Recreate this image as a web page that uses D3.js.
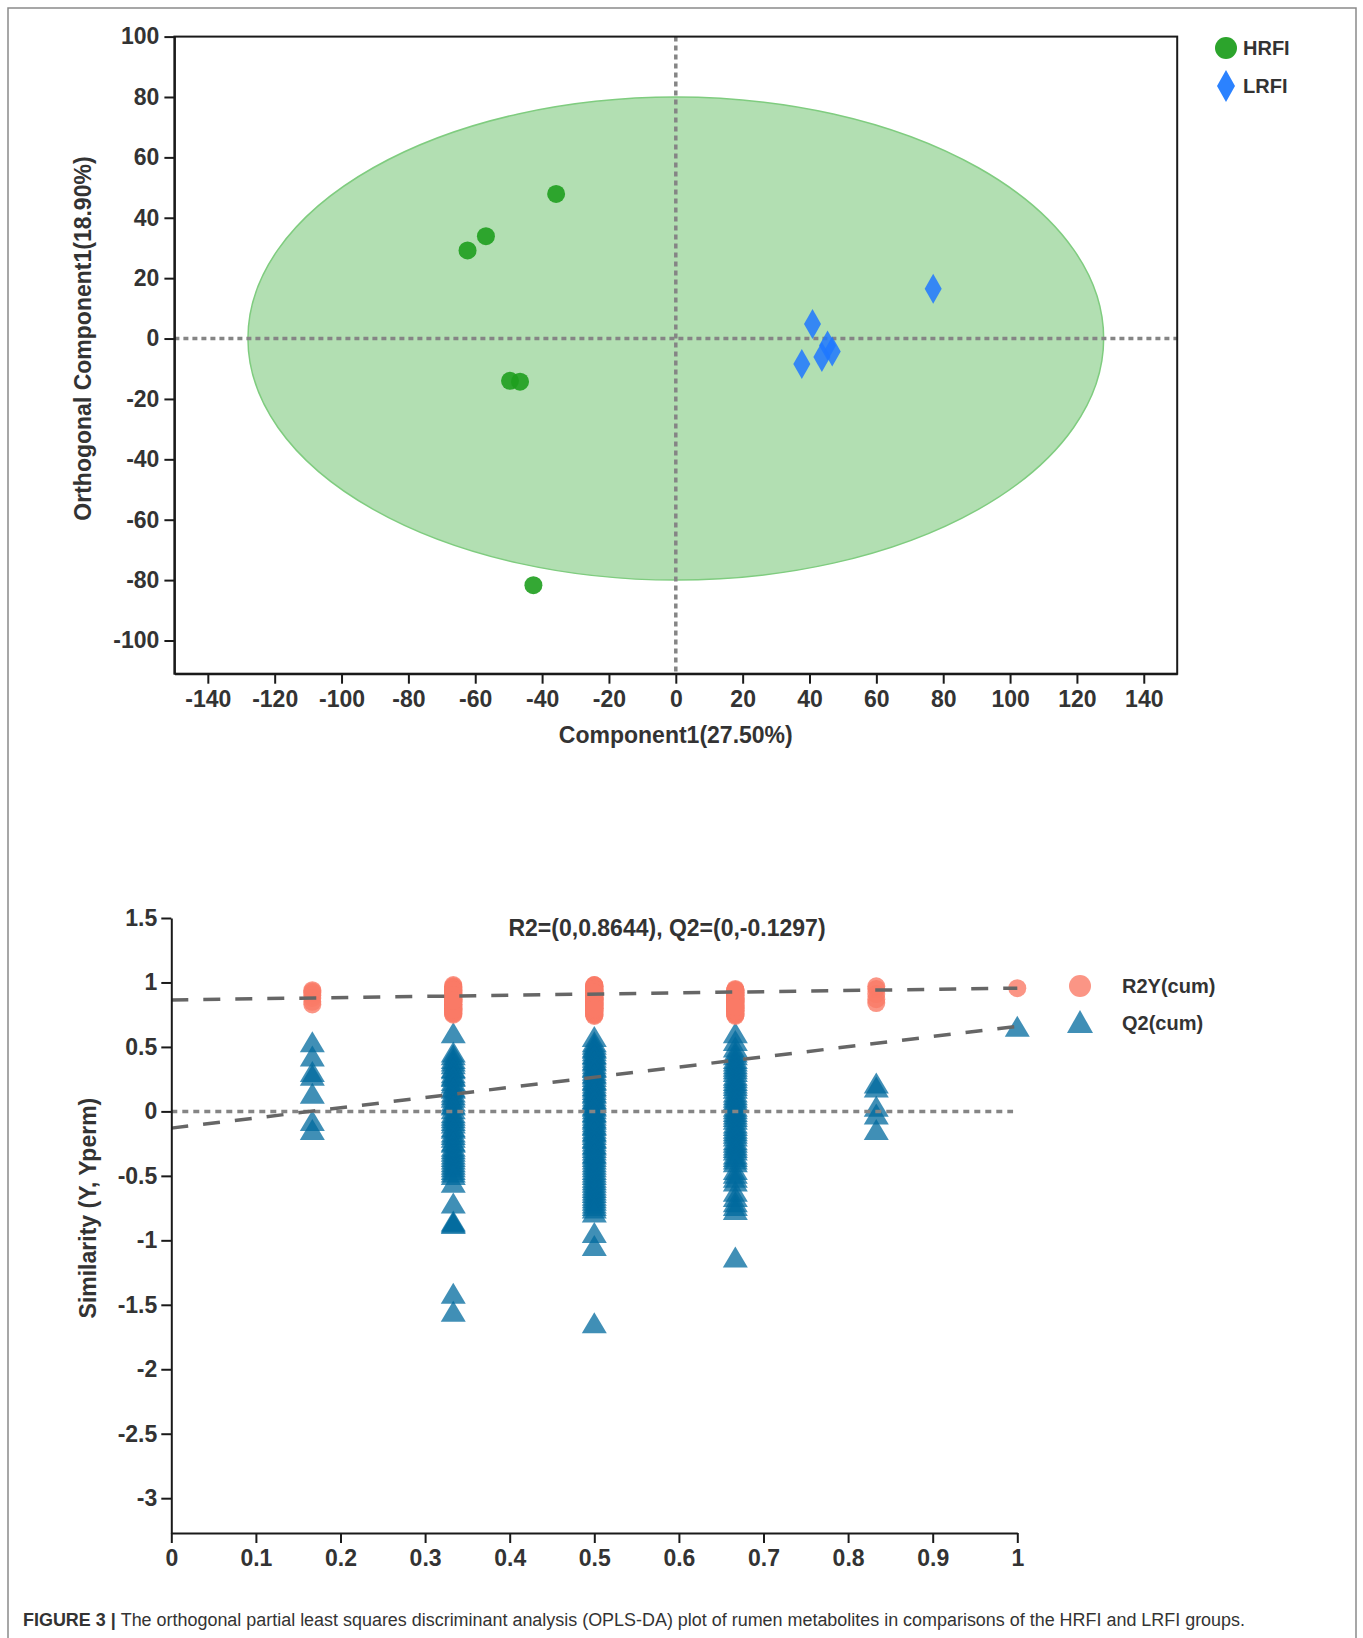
<!DOCTYPE html>
<html>
  <head>
    <meta http-equiv="Content-Type" content="text/html;charset=utf-8"/>
    <style type="text/css">

body {
  margin: 0;
  background: #fff;
}

svg {
  font-family: "Liberation Sans", Arial, sans-serif;
}

.axis text {
  font-size: 23px;
  font-weight: bold;
  fill: #333;
}

.axis line, .axis path {
  fill: none;
  stroke: #1a1a1a;
  stroke-width: 2px;
}

.label {
  font-size: 23px;
  font-weight: bold;
  fill: #333;
}

.legend text {
  font-size: 20px;
  font-weight: bold;
  fill: #333;
}

.refline {
  fill: none;
  stroke: #858585;
  stroke-width: 3.5px;
  stroke-dasharray: 5,4;
}

.fitline {
  fill: none;
  stroke: #666;
  stroke-width: 3.5px;
  stroke-dasharray: 17,15;
}

.caption {
  font-size: 18px;
  fill: #333;
}

    </style>
  </head>
  <body>
    <svg></svg>

    <script type="text/javascript" src="https://cdn.jsdelivr.net/npm/d3@7/dist/d3.min.js"></script>

    <script type="text/javascript">

// ---- score plot data (OPLS-DA) ----
var hrfiX = [-35.8, -56.8, -62.3, -49.6, -46.6, -42.6];
var hrfiY = [47.9, 33.9, 29.2, -14.0, -14.3, -81.7];
var lrfiX = [77.0, 40.9, 45.4, 46.8, 43.7, 37.7];
var lrfiY = [16.5, 4.8, -2.3, -4.3, -6.1, -8.4];
var scoreXTicks = [-140, -120, -100, -80, -60, -40, -20, 0, 20, 40, 60, 80, 100, 120, 140];
var scoreYTicks = [100, 80, 60, 40, 20, 0, -20, -40, -60, -80, -100];
var ellipseR = [128, 80];   // Hotelling T2 ellipse radii (x, y)

// ---- permutation test data ----
var permLevels = [0.1667, 0.3333, 0.5, 0.6667, 0.8333];
var r2Lev1 = [0.94, 0.93, 0.92, 0.90, 0.88, 0.85, 0.83];
var q2Lev1 = [0.54, 0.43, 0.31, 0.28, 0.14, -0.07, -0.14];
var r2Lev2 = [0.98, 0.97, 0.96, 0.96, 0.95, 0.95, 0.94, 0.93, 0.93, 0.92, 0.92, 0.91, 0.90, 0.90, 0.89, 0.89, 0.88, 0.88,
              0.87, 0.87, 0.86, 0.86, 0.85, 0.85, 0.84, 0.84, 0.83, 0.83, 0.82, 0.82, 0.81, 0.81, 0.80, 0.80, 0.79, 0.79,
              0.78, 0.78, 0.77, 0.77, 0.76, 0.76, 0.75, 0.91, 0.89, 0.87, 0.85, 0.83, 0.81, 0.79, 0.94, 0.90, 0.86];
var q2Lev2 = [0.61, 0.46, 0.44, 0.41, 0.39, 0.37, 0.34, 0.33, 0.30, 0.28, 0.27, 0.24, 0.22, 0.19, 0.18, 0.15, 0.13, 0.11,
              0.08, 0.06, 0.05, 0.02, -0.01, -0.03, -0.05, -0.07, -0.09, -0.12, -0.13, -0.16, -0.18, -0.20, -0.23, -0.24,
              -0.27, -0.29, -0.31, -0.33, -0.35, -0.37, -0.39, -0.41, -0.43, -0.45, -0.47, -0.49, -0.55, -0.71, -0.85,
              -0.86, -0.87, -1.41, -1.55];
var r2Lev3 = [0.98, 0.98, 0.97, 0.97, 0.96, 0.96, 0.95, 0.95, 0.94, 0.94, 0.93, 0.93, 0.92, 0.92, 0.91, 0.91, 0.90, 0.90,
              0.89, 0.89, 0.88, 0.88, 0.87, 0.87, 0.86, 0.86, 0.85, 0.85, 0.84, 0.84, 0.83, 0.83, 0.82, 0.82, 0.81, 0.81,
              0.80, 0.80, 0.79, 0.79, 0.78, 0.78, 0.77, 0.77, 0.76, 0.76, 0.75, 0.75, 0.74, 0.92, 0.90, 0.88, 0.86, 0.84,
              0.82, 0.80, 0.78, 0.93, 0.91, 0.89, 0.87, 0.85, 0.83, 0.81, 0.79, 0.96, 0.94, 0.90, 0.86, 0.82, 0.97, 0.95,
              0.91, 0.87, 0.83, 0.88, 0.84, 0.80, 0.92];
var q2Lev3 = [0.58, 0.54, 0.52, 0.50, 0.49, 0.47, 0.45, 0.44, 0.42, 0.40, 0.39, 0.37, 0.35, 0.34, 0.32, 0.30, 0.29, 0.27,
              0.25, 0.24, 0.22, 0.20, 0.19, 0.17, 0.15, 0.14, 0.12, 0.10, 0.09, 0.07, 0.05, 0.04, 0.02, 0.00, -0.01, -0.03,
              -0.05, -0.06, -0.08, -0.10, -0.11, -0.13, -0.15, -0.16, -0.18, -0.20, -0.21, -0.23, -0.25, -0.26, -0.28,
              -0.30, -0.32, -0.33, -0.35, -0.37, -0.39, -0.41, -0.43, -0.45, -0.47, -0.49, -0.51, -0.53, -0.55, -0.57,
              -0.59, -0.61, -0.63, -0.65, -0.67, -0.69, -0.71, -0.73, -0.75, -0.78, -0.94, -1.04, -1.64];
var r2Lev4 = [0.95, 0.94, 0.94, 0.93, 0.92, 0.92, 0.91, 0.90, 0.90, 0.89, 0.88, 0.88, 0.87, 0.86, 0.86, 0.85, 0.84, 0.84,
              0.83, 0.82, 0.82, 0.81, 0.80, 0.80, 0.79, 0.78, 0.78, 0.77, 0.76, 0.76, 0.75, 0.74, 0.93, 0.91, 0.89, 0.87,
              0.85, 0.83, 0.81, 0.79, 0.77, 0.75, 0.92, 0.88, 0.84, 0.80, 0.90, 0.86, 0.82, 0.78, 0.94, 0.87, 0.81];
var q2Lev4 = [0.61, 0.55, 0.50, 0.46, 0.44, 0.41, 0.39, 0.37, 0.35, 0.33, 0.31, 0.28, 0.26, 0.24, 0.22, 0.20, 0.18, 0.15,
              0.13, 0.11, 0.09, 0.07, 0.04, 0.02, 0.00, -0.02, -0.04, -0.06, -0.09, -0.11, -0.13, -0.15, -0.17, -0.19,
              -0.22, -0.24, -0.26, -0.28, -0.30, -0.33, -0.35, -0.37, -0.39, -0.45, -0.48, -0.51, -0.54, -0.62, -0.66,
              -0.70, -0.73, -0.76, -1.13];
var r2Lev5 = [0.97, 0.95, 0.91, 0.87, 0.84];
var q2Lev5 = [0.22, 0.19, 0.04, -0.02, -0.14];
var r2Orig = 0.956, q2Orig = 0.66;          // unpermuted model (similarity 1)
var r2Intercept = 0.8644, q2Intercept = -0.1297;
var permXTicks = [0, 0.1, 0.2, 0.3, 0.4, 0.5, 0.6, 0.7, 0.8, 0.9, 1];
var permYTicks = [1.5, 1, 0.5, 0, -0.5, -1, -1.5, -2, -2.5, -3];

var W = 1363, H = 1638;

var svg = d3.select("svg")
    .attr("width", W)
    .attr("height", H);

// figure frame (open at the bottom)
svg.append("path")
    .attr("d", "M8,1638 V8 H1356 V1638")
    .attr("fill", "none")
    .attr("stroke", "#8a8a8a")
    .attr("stroke-width", 1.5);

// =============== upper: score plot ===============
var x1 = d3.scaleLinear().domain([-150, 150]).range([174.4, 1177.2]);
var y1 = d3.scaleLinear().domain([-111, 100]).range([673.7, 36.6]);

var upper = svg.append("g");

upper.append("ellipse")
    .attr("cx", x1(0))
    .attr("cy", y1(0))
    .attr("rx", x1(ellipseR[0]) - x1(0))
    .attr("ry", y1(0) - y1(ellipseR[1]))
    .attr("fill", "#b2dfb2")
    .attr("stroke", "#7fcc7f")
    .attr("stroke-width", 1.5);

upper.append("line").attr("class", "refline")
    .attr("x1", x1(-150)).attr("x2", x1(150))
    .attr("y1", y1(0)).attr("y2", y1(0));
upper.append("line").attr("class", "refline")
    .attr("x1", x1(0)).attr("x2", x1(0))
    .attr("y1", y1(100)).attr("y2", y1(-111));

upper.append("rect")
    .attr("x", x1(-150)).attr("y", y1(100))
    .attr("width", x1(150) - x1(-150))
    .attr("height", y1(-111) - y1(100))
    .attr("fill", "none")
    .attr("stroke", "#1a1a1a")
    .attr("stroke-width", 2);

var diamond = "M0,-15 L8.5,0 L0,15 L-8.5,0 Z";

upper.append("g").selectAll("path")
    .data(d3.range(lrfiX.length))
  .enter().append("path")
    .attr("d", diamond)
    .attr("transform", i => "translate(" + x1(lrfiX[i]) + "," + y1(lrfiY[i]) + ")")
    .attr("fill", "#1f78ff")
    .attr("fill-opacity", 0.85);

upper.append("g").selectAll("circle")
    .data(d3.range(hrfiX.length))
  .enter().append("circle")
    .attr("cx", i => x1(hrfiX[i]))
    .attr("cy", i => y1(hrfiY[i]))
    .attr("r", 9)
    .attr("fill", "#1e9e1e")
    .attr("fill-opacity", 0.9);

upper.append("g")
    .attr("class", "axis")
    .attr("transform", "translate(" + x1(-150) + ",0)")
    .call(d3.axisLeft(y1).tickValues(scoreYTicks).tickFormat(d => String(d))
          .tickSize(10).tickPadding(5).tickSizeOuter(0));
upper.append("g")
    .attr("class", "axis")
    .attr("transform", "translate(0," + y1(-111) + ")")
    .call(d3.axisBottom(x1).tickValues(scoreXTicks).tickFormat(d => String(d))
          .tickSize(10).tickPadding(7).tickSizeOuter(0));

upper.append("text").attr("class", "label")
    .attr("x", x1(0)).attr("y", 743)
    .attr("text-anchor", "middle")
    .text("Component1(27.50%)");
upper.append("text").attr("class", "label")
    .attr("transform", "translate(91," + y1(0) + ") rotate(-90)")
    .attr("text-anchor", "middle")
    .text("Orthogonal Component1(18.90%)");

var leg1 = upper.append("g").attr("class", "legend");
leg1.append("circle").attr("cx", 1226).attr("cy", 48).attr("r", 11).attr("fill", "#2ca42c");
leg1.append("text").attr("x", 1243).attr("y", 55).text("HRFI");
leg1.append("path").attr("d", "M1226,70 L1235,86 L1226,102 L1217,86 Z").attr("fill", "#2b82ff");
leg1.append("text").attr("x", 1243).attr("y", 93).text("LRFI");

// =============== lower: permutation plot ===============
var x2 = d3.scaleLinear().domain([0, 1]).range([171.3, 1017.3]);
var y2 = d3.scaleLinear().domain([-3.27, 1.5]).range([1533, 918]);

var lower = svg.append("g");

var r2Lists = [r2Lev1, r2Lev2, r2Lev3, r2Lev4, r2Lev5];
var q2Lists = [q2Lev1, q2Lev2, q2Lev3, q2Lev4, q2Lev5];

var r2Pts = [], q2Pts = [];
permLevels.forEach(function (lv, i) {
  r2Lists[i].forEach(v => r2Pts.push([lv, v]));
  q2Lists[i].forEach(v => q2Pts.push([lv, v]));
});
r2Pts.push([1, r2Orig]);
q2Pts.push([1, q2Orig]);

var tri = "M0,-10.5 L12.5,10.5 L-12.5,10.5 Z";

lower.append("g").selectAll("path")
    .data(q2Pts)
  .enter().append("path")
    .attr("d", tri)
    .attr("transform", d => "translate(" + x2(d[0]) + "," + y2(d[1]) + ")")
    .attr("fill", "#006a9e")
    .attr("fill-opacity", 0.75);

lower.append("g").selectAll("circle")
    .data(r2Pts)
  .enter().append("circle")
    .attr("cx", d => x2(d[0]))
    .attr("cy", d => y2(d[1]))
    .attr("r", 9)
    .attr("fill", "#fa7a66")
    .attr("fill-opacity", 0.8);

lower.append("line").attr("class", "refline")
    .style("stroke-dasharray", "6,5")
    .attr("x1", x2(0)).attr("x2", x2(0.995))
    .attr("y1", y2(0)).attr("y2", y2(0));

var fit = d3.line().x(d => x2(d[0])).y(d => y2(d[1]));
lower.append("path").attr("class", "fitline")
    .attr("d", fit([[0, r2Intercept], [1, r2Orig]]));
lower.append("path").attr("class", "fitline")
    .attr("d", fit([[0, q2Intercept], [1, q2Orig]]));

lower.append("g")
    .attr("class", "axis")
    .attr("transform", "translate(" + x2(0) + ",0)")
    .call(d3.axisLeft(y2).tickValues(permYTicks).tickFormat(d => String(d))
          .tickSize(10).tickPadding(4).tickSizeOuter(0));
lower.append("g")
    .attr("class", "axis")
    .attr("transform", "translate(0," + y2(-3.27) + ")")
    .call(d3.axisBottom(x2).tickValues(permXTicks).tickFormat(d => String(d))
          .tickSize(10).tickPadding(7).tickSizeOuter(0));

lower.append("text").attr("class", "label")
    .attr("x", 667).attr("y", 936)
    .attr("text-anchor", "middle")
    .text("R2=(0," + r2Intercept + "), Q2=(0," + q2Intercept + ")");
lower.append("text").attr("class", "label")
    .attr("transform", "translate(96," + y2(-0.75) + ") rotate(-90)")
    .attr("text-anchor", "middle")
    .text("Similarity (Y, Yperm)");

var leg2 = lower.append("g").attr("class", "legend");
leg2.append("circle").attr("cx", 1080).attr("cy", 986).attr("r", 11)
    .attr("fill", "#fa7a66").attr("fill-opacity", 0.8);
leg2.append("text").attr("x", 1122).attr("y", 993).text("R2Y(cum)");
leg2.append("path").attr("d", "M1080,1010 L1093,1033 L1067,1033 Z")
    .attr("fill", "#006a9e").attr("fill-opacity", 0.75);
leg2.append("text").attr("x", 1122).attr("y", 1030).text("Q2(cum)");

// caption
var cap = svg.append("text").attr("class", "caption")
    .attr("x", 23).attr("y", 1626)
    .attr("textLength", 1222)
    .attr("lengthAdjust", "spacingAndGlyphs");
cap.append("tspan").attr("font-weight", "bold").text("FIGURE 3 | ");
cap.append("tspan").text("The orthogonal partial least squares discriminant analysis (OPLS-DA) plot of rumen metabolites in comparisons of the HRFI and LRFI groups.");

    </script>
  </body>
</html>
